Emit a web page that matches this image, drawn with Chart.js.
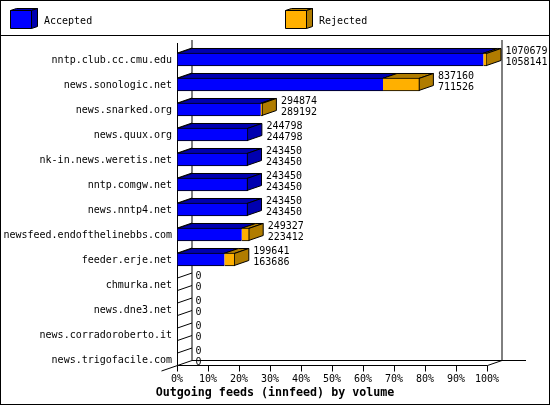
<!DOCTYPE html>
<html><head><meta charset="utf-8">
<style>html,body{margin:0;padding:0;background:#fff}canvas{display:block}</style>
<script src="https://cdn.jsdelivr.net/npm/chart.js@4/dist/chart.umd.min.js"></script>
</head><body><canvas id="c" width="550" height="405"></canvas>
<script>
const categories = ['nntp.club.cc.cmu.edu','news.sonologic.net','news.snarked.org','news.quux.org','nk-in.news.weretis.net','nntp.comgw.net','news.nntp4.net','newsfeed.endofthelinebbs.com','feeder.erje.net','chmurka.net','news.dne3.net','news.corradoroberto.it','news.trigofacile.com'];
const offered = [1070679,837160,294874,244798,243450,243450,243450,249327,199641,0,0,0,0];
const accepted = [1058141,711526,289192,244798,243450,243450,243450,223412,163686,0,0,0,0];
const rejected = [12538,125634,5682,0,0,0,0,25915,35955,0,0,0,0];
const tickLabels = ['0%','10%','20%','30%','40%','50%','60%','70%','80%','90%','100%'];
const seriesNames = ['Accepted','Rejected'];
const axisTitle = 'Outgoing feeds (innfeed) by volume';
const BLUE='#0000ff',DBLUE='#0000b0',ORANGE='#ffb000',DORANGE='#b07c00',BLACK='#000';
const MONO='"DejaVu Sans Mono"';
const DX=14.5,DY=5;

function face(ctx,pts,fill){
  ctx.beginPath();pts.forEach((p,i)=>i?ctx.lineTo(p[0],p[1]):ctx.moveTo(p[0],p[1]));ctx.closePath();
  ctx.fillStyle=fill;ctx.fill();ctx.strokeStyle=BLACK;ctx.lineWidth=1;ctx.stroke();
}
function line(ctx,x1,y1,x2,y2){ctx.beginPath();ctx.moveTo(x1,y1);ctx.lineTo(x2,y2);ctx.stroke();}

const scene={id:'scene',
  afterLayout(chart){ if(chart.titleBlock){chart.titleBlock.left=0;chart.titleBlock.right=chart.width;} },
  beforeDatasetsDraw(chart){
    const ctx=chart.ctx,x=chart.scales.x,y=chart.scales.y;
    const L=Math.round(x.left)+.5,R=Math.round(x.right)+.5,floor=365.5,top=40;
    ctx.save();ctx.strokeStyle=BLACK;ctx.lineWidth=1;
    ctx.strokeRect(.5,.5,549,404);
    line(ctx,0,35.5,550,35.5);
    line(ctx,L,43,L,floor);
    line(ctx,L+DX,top,L+DX,floor-DY);
    line(ctx,R+DX,top,R+DX,floor-DY);
    line(ctx,L+DX,floor-DY,526,floor-DY);
    line(ctx,L,floor,R,floor);
    line(ctx,L-16,floor+DY+.5,L,floor);
    line(ctx,L,floor,L+DX,floor-DY);
    line(ctx,R,floor,R+DX,floor-DY);
    const step=(y.getPixelForValue(1)-y.getPixelForValue(0))/2;
    for(let i=1;i<categories.length*2;i++){const f=floor-i*step;line(ctx,L,f,L+DX,f-DY);}
    x.ticks.forEach((t,i)=>{const p=Math.round(x.getPixelForTick(i))+.5;line(ctx,p,floor,p,floor+6);});
    const m0=chart.getDatasetMeta(0).data,m1=chart.getDatasetMeta(1).data;
    categories.forEach((c,i)=>{
      if(!offered[i])return;
      const a=m0[i],b=m1[i],t=a.y-a.height/2+.5,u=a.y+a.height/2-.5;
      const x0=a.base+.5,xa=a.x-.5,xb=(rejected[i]?b.x:a.x)-.5;
      face(ctx,[[x0,t],[x0+DX,t-DY],[xa+DX,t-DY],[xa,t]],DBLUE);
      if(rejected[i])face(ctx,[[xa,t],[xa+DX,t-DY],[xb+DX,t-DY],[xb,t]],DORANGE);
      face(ctx,[[xb,t],[xb+DX,t-DY],[xb+DX,u-DY],[xb,u]],rejected[i]?DORANGE:DBLUE);
    });
    ctx.restore();
  },
  afterDatasetsDraw(chart){
    const ctx=chart.ctx,x=chart.scales.x,y=chart.scales.y;
    ctx.save();ctx.fillStyle=BLACK;ctx.font='10px '+MONO;ctx.textBaseline='middle';ctx.textAlign='left';
    categories.forEach((c,i)=>{
      const px=x.getPixelForValue(offered[i])+DX+4,py=y.getPixelForValue(i);
      ctx.fillText(String(offered[i]),px,py-8);
      ctx.fillText(String(accepted[i]),px,py+3);
    });
    [[10,BLUE,DBLUE,44],[285,ORANGE,DORANGE,319]].forEach((e,i)=>{
      const bx=e[0]+.5,by=10.5,w=21,h=18,dx=6,dy=2;
      face(ctx,[[bx,by],[bx+dx,by-dy],[bx+w+dx,by-dy],[bx+w,by]],e[2]);
      face(ctx,[[bx+w,by],[bx+w+dx,by-dy],[bx+w+dx,by+h-dy],[bx+w,by+h]],e[2]);
      face(ctx,[[bx,by],[bx+w,by],[bx+w,by+h],[bx,by+h]],e[1]);
      ctx.fillStyle=BLACK;ctx.fillText(seriesNames[i],e[3],21);
    });
    ctx.restore();
  }
};

const shared={borderColor:BLACK,borderWidth:1,barThickness:13,categoryPercentage:1,barPercentage:1};
new Chart(document.getElementById('c'),{
  type:'bar',
  data:{labels:categories,datasets:[
    {label:seriesNames[0],data:accepted,backgroundColor:BLUE,...shared,
      borderSkipped:c=>rejected[c.dataIndex]?'right':false},
    {label:seriesNames[1],data:rejected,backgroundColor:ORANGE,...shared,borderSkipped:'left'}
  ]},
  options:{
    indexAxis:'y',responsive:false,animation:false,devicePixelRatio:1,
    layout:{padding:{top:47,right:63,left:0,bottom:0}},
    plugins:{legend:{display:false},tooltip:{enabled:false},
      title:{display:true,position:'bottom',text:axisTitle,color:BLACK,font:{family:MONO,size:11.67,weight:'bold'},padding:{top:1,bottom:5}}},
    scales:{
      x:{stacked:true,min:0,max:offered[0],
        grid:{display:false,drawTicks:false},border:{display:false},
        ticks:{count:tickLabels.length,autoSkip:false,maxRotation:0,padding:1,color:BLACK,font:{family:MONO,size:10},
          callback:(v,i)=>tickLabels[i]},
        afterFit:s=>{s.height=13;}},
      y:{stacked:true,
        grid:{display:false,drawTicks:false},border:{display:false},
        ticks:{autoSkip:false,padding:5,labelOffset:1,color:BLACK,font:{family:MONO,size:10}},
        afterFit:s=>{s.width=177;}}
    }
  },
  plugins:[scene]
});
</script></body></html>
